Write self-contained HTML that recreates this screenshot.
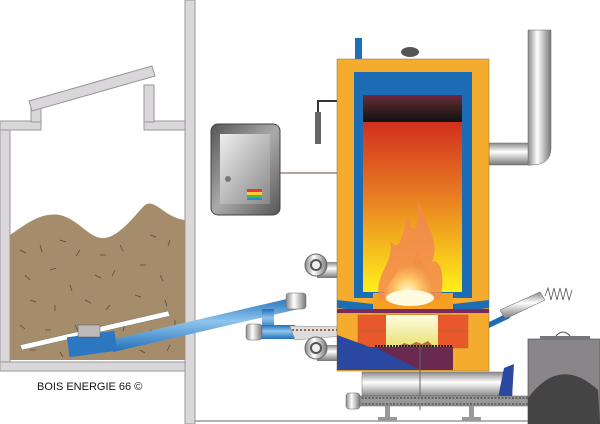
<!DOCTYPE html>
<html><head><meta charset="utf-8"><style>
html,body{margin:0;padding:0;background:#fff;width:600px;height:424px;overflow:hidden}
</style></head><body>
<svg width="600" height="424" viewBox="0 0 600 424" xmlns="http://www.w3.org/2000/svg">
<defs>
<linearGradient id="fire" x1="0" y1="0" x2="0" y2="1">
<stop offset="0" stop-color="#c8141c"/><stop offset="0.5" stop-color="#e87a22"/><stop offset="1" stop-color="#fff01a"/></linearGradient>
<linearGradient id="top" x1="0" y1="0" x2="0" y2="1">
<stop offset="0" stop-color="#7a1e50"/><stop offset="0.15" stop-color="#5a2a30"/><stop offset="1" stop-color="#111"/></linearGradient>
<linearGradient id="steelv" x1="0" y1="0" x2="1" y2="0">
<stop offset="0" stop-color="#888"/><stop offset="0.4" stop-color="#fff"/><stop offset="1" stop-color="#777"/></linearGradient>
<linearGradient id="steelh" x1="0" y1="0" x2="0" y2="1">
<stop offset="0" stop-color="#888"/><stop offset="0.4" stop-color="#fff"/><stop offset="1" stop-color="#777"/></linearGradient>
<linearGradient id="box" x1="0" y1="0" x2="1" y2="1">
<stop offset="0" stop-color="#555"/><stop offset="0.5" stop-color="#aaa"/><stop offset="1" stop-color="#555"/></linearGradient>
<linearGradient id="boxin" x1="0" y1="0" x2="1" y2="1">
<stop offset="0" stop-color="#eee"/><stop offset="1" stop-color="#888"/></linearGradient>
<linearGradient id="blue" x1="0" y1="0" x2="0" y2="1">
<stop offset="0" stop-color="#1f6fb8"/><stop offset="0.45" stop-color="#8fc4ee"/><stop offset="1" stop-color="#1f6fb8"/></linearGradient>
<radialGradient id="flame" cx="0.5" cy="0.8" r="0.6">
<stop offset="0" stop-color="#fffce0"/><stop offset="0.4" stop-color="#ffd070"/><stop offset="1" stop-color="#f08a40" stop-opacity="0.6"/></radialGradient>
<linearGradient id="chamber" x1="0" y1="0" x2="0" y2="1">
<stop offset="0" stop-color="#fffde0"/><stop offset="1" stop-color="#e8e070"/></linearGradient>
</defs>

<!-- silo walls -->
<g fill="#d9d7d9" stroke="#9a979a" stroke-width="1">
<rect x="0" y="121" width="10" height="249"/>
<rect x="0" y="121" width="41" height="9"/>
<rect x="144" y="121" width="41" height="9"/>
<rect x="31" y="108" width="10" height="14"/>
<rect x="144" y="85" width="10" height="37"/>
<polygon points="29,101 152,66 155,76 32,111"/>
<rect x="0" y="362" width="185" height="9"/>
<rect x="185" y="0" width="10" height="424"/>
</g>
<line x1="195" y1="421" x2="600" y2="421" stroke="#9a979a" stroke-width="1.5"/>

<!-- wood chips -->
<path d="M10,235 C25,225 40,212 60,215 C80,220 90,240 105,238 C120,236 135,215 145,205 C155,198 165,218 185,220 L185,360 L10,360 Z" fill="#a58c6b"/>
<g stroke="#5a4a38" stroke-width="0.8">
<path d="M20,250 l6,3 M40,245 l2,7 M60,240 l6,2 M80,250 l-4,6 M100,255 l6,0 M120,245 l3,6 M150,235 l6,2 M170,240 l-2,6 M25,275 l5,5 M50,270 l6,-2 M70,285 l2,6 M95,275 l6,3 M115,270 l-3,6 M140,265 l6,0 M160,275 l3,6 M30,300 l6,2 M55,305 l0,6 M85,300 l6,3 M110,305 l-4,5 M135,295 l6,2 M165,300 l2,6 M20,325 l5,4 M45,330 l6,0 M75,325 l3,6 M100,335 l6,-2 M125,325 l-2,6 M150,330 l6,3 M175,320 l0,6 M30,350 l6,0 M60,352 l3,5 M140,350 l5,3 M170,345 l-3,6"/>
</g>
<!-- rake bar -->
<polygon points="20,345 168,311 170,316 22,350" fill="#fff" stroke="#777" stroke-width="0.5"/>
<!-- feed pipe -->
<polygon points="110,340 300,296 303,308 113,352" fill="url(#blue)"/>
<rect x="68" y="334" width="48" height="20" fill="#2c78c0" transform="rotate(-8 92 344)"/>
<rect x="78" y="325" width="22" height="12" fill="#bbb" stroke="#555" stroke-width="0.5"/>
<rect x="286" y="293" width="20" height="16" rx="3" fill="url(#steelv)" stroke="#666" stroke-width="0.5"/>
<rect x="262" y="309" width="12" height="20" fill="url(#blue)"/>
<rect x="255" y="325" width="40" height="14" fill="url(#blue)"/>
<rect x="246" y="324" width="16" height="16" rx="3" fill="url(#steelv)" stroke="#666" stroke-width="0.5"/>
<polygon points="290,326 365,327 365,334 295,340" fill="#ddd" stroke="#888" stroke-width="0.5"/>
<line x1="292" y1="330" x2="365" y2="330" stroke="#a06a40" stroke-dasharray="2,2" stroke-width="2"/>

<!-- control box -->
<rect x="211" y="124" width="69" height="91" rx="7" fill="url(#box)" stroke="#444" stroke-width="1"/>
<rect x="220" y="134" width="50" height="70" fill="url(#boxin)"/>
<circle cx="228" cy="179" r="3" fill="#777"/>
<rect x="247" y="189" width="15" height="3" fill="#e33"/><rect x="247" y="192" width="15" height="3" fill="#fc3"/><rect x="247" y="195" width="15" height="3" fill="#4b4"/><rect x="247" y="198" width="15" height="2" fill="#38c"/>
<line x1="280" y1="173" x2="337" y2="173" stroke="#6b4a3a" stroke-width="1"/>
<!-- sensor pipe -->
<path d="M337,101 L318,101 L318,143" fill="none" stroke="#333" stroke-width="2"/>
<rect x="315" y="112" width="6" height="32" fill="#666"/>

<!-- fans -->
<g>
<rect x="317" y="262" width="22" height="16" fill="url(#steelh)"/>
<circle cx="316" cy="265" r="11" fill="url(#steelv)" stroke="#666"/>
<circle cx="316" cy="265" r="5" fill="#eee" stroke="#555" stroke-width="2"/>
<rect x="317" y="345" width="22" height="16" fill="url(#steelh)"/>
<circle cx="316" cy="348" r="11" fill="url(#steelv)" stroke="#666"/>
<circle cx="316" cy="348" r="5" fill="#eee" stroke="#555" stroke-width="2"/>
</g>

<!-- chimney -->
<rect x="489" y="143" width="42" height="22" fill="url(#steelh)" stroke="#666" stroke-width="0.5"/>
<path d="M528,30 L551,30 L551,148 Q551,165 531,165 L528,165 Z" fill="url(#steelv)" stroke="#666" stroke-width="0.5"/>

<!-- boiler -->
<rect x="355" y="38" width="7" height="22" fill="#1f6fb8"/>
<ellipse cx="410" cy="52" rx="9" ry="5" fill="#555"/>
<rect x="337" y="59" width="152" height="312" fill="#f5ac2e" stroke="#8a6a30" stroke-width="0.5"/>
<rect x="354" y="72" width="118" height="226" fill="#1c6db4"/>
<rect x="363" y="95" width="99" height="197" fill="url(#fire)"/>
<rect x="363" y="95" width="99" height="27" fill="url(#top)"/>
<!-- burner section -->
<rect x="373" y="293" width="80" height="22" fill="#f5a020"/>
<polygon points="337,300 373,304 373,312 337,308" fill="#1c6db4"/>
<polygon points="453,304 489,300 489,308 453,312" fill="#1c6db4"/>
<rect x="337" y="309" width="152" height="4" fill="#7a2a5a"/>
<rect x="358" y="315" width="110" height="33" fill="#e8582a" stroke="#a63" stroke-width="0.5"/>
<line x1="358" y1="331" x2="468" y2="331" stroke="#a63" stroke-width="0.7"/>
<rect x="386" y="315" width="52" height="33" fill="url(#chamber)"/>
<path d="M398,347 l6,-4 l6,2 l6,-3 l6,2 l6,-3 l6,6 Z" fill="#b07040"/>
<polygon points="337,335 370,347 453,347 453,370 337,370" fill="#2a48a0"/>
<polygon points="375,347 453,347 453,370 420,370" fill="#6a2a50"/>
<line x1="375" y1="346" x2="453" y2="346" stroke="#222" stroke-width="2" stroke-dasharray="2,1"/>
<!-- flames -->
<path d="M380,300 C372,275 395,265 390,240 C400,255 402,235 408,215 C412,240 420,230 418,200 C428,230 440,240 432,262 C440,258 446,275 440,300 Z" fill="#f28a50" opacity="0.85"/>
<path d="M385,302 C380,285 398,280 400,262 C408,275 412,262 418,252 C422,270 436,275 430,302 Z" fill="url(#flame)"/>
<ellipse cx="410" cy="298" rx="24" ry="8" fill="#fffbe0"/>
<!-- lighter -->
<polygon points="489,322 508,313 510,318 489,328" fill="#1c6db4"/>
<polygon points="500,310 540,292 545,300 505,319" fill="url(#steelh)" stroke="#555" stroke-width="0.5"/>
<path d="M545,296 l3,-8 l3,12 l3,-12 l3,12 l3,-12 l3,12 l3,-12 l3,12 l3,-10" fill="none" stroke="#555" stroke-width="0.8"/>

<!-- ash auger -->
<rect x="362" y="372" width="150" height="26" fill="url(#steelh)" stroke="#777" stroke-width="0.5"/>
<polygon points="498,398 512,398 514,364 504,368" fill="#2a48a0"/>
<line x1="420" y1="345" x2="420" y2="410" stroke="#666" stroke-width="1"/>
<rect x="353" y="396" width="200" height="10" fill="#999" stroke="#555" stroke-width="0.5"/>
<line x1="358" y1="398" x2="552" y2="398" stroke="#555" stroke-dasharray="2,1.5" stroke-width="1.5"/>
<line x1="358" y1="404" x2="552" y2="404" stroke="#555" stroke-dasharray="2,1.5" stroke-width="1.5"/>
<rect x="346" y="393" width="14" height="16" rx="3" fill="url(#steelv)" stroke="#666" stroke-width="0.5"/>
<rect x="385" y="406" width="5" height="12" fill="#999"/><rect x="378" y="417" width="19" height="4" fill="#999"/>
<rect x="469" y="406" width="5" height="12" fill="#999"/><rect x="462" y="417" width="19" height="4" fill="#999"/>

<!-- ash bin -->
<rect x="528" y="339" width="72" height="85" fill="#8a8589" stroke="#555" stroke-width="0.7"/>
<rect x="540" y="336" width="50" height="4" fill="#777"/>
<path d="M556,336 q7,-8 14,0" fill="none" stroke="#555"/>
<path d="M528,424 L528,398 Q560,355 598,390 L600,424 Z" fill="#444"/>

<text x="37" y="390" font-family="Liberation Sans, sans-serif" font-size="11" fill="#111">BOIS ENERGIE 66 ©</text>
</svg>
</body></html>
